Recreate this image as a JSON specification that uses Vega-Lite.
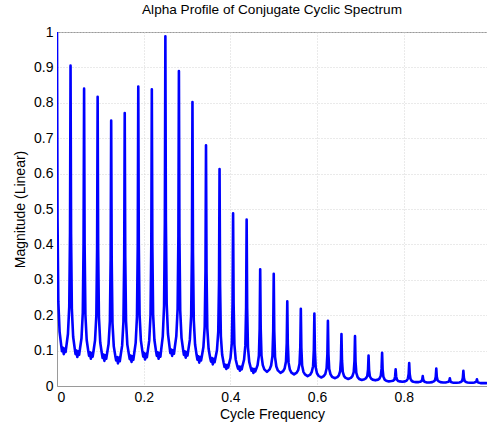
{
  "$schema": "https://vega.github.io/schema/vega-lite/v6.json",
  "width": 430,
  "height": 354,
  "autosize": {"type": "none"},
  "padding": {"left": 57, "top": 32, "right": 0, "bottom": 41},
  "background": "white",
  "title": {"text": "Alpha Profile of Conjugate Cyclic Spectrum", "fontSize": 13.6, "fontWeight": "normal", "font": "Liberation Sans", "color": "#000000", "offset": 8},
  "config": {
    "view": {"stroke": "#9a9a9a", "strokeWidth": 1},
    "axis": {"labelFont": "Liberation Sans", "titleFont": "Liberation Sans", "labelFontSize": 14, "titleFontSize": 14, "titleFontWeight": "normal", "labelColor": "#000000", "titleColor": "#000000", "domainColor": "#9a9a9a", "gridColor": "#d4d4d4", "gridDash": [1, 2], "ticks": false}
  },
  "data": {"values": [
    {"f":0,"m":1.0},{"f":0.0012,"m":0.475},{"f":0.003,"m":0.239},{"f":0.006,"m":0.153},{"f":0.0095,"m":0.117},{"f":0.0115,"m":0.098},{"f":0.0135,"m":0.108},{"f":0.015625,"m":0.09},{"f":0.0178,"m":0.106},{"f":0.0198,"m":0.096},{"f":0.02175,"m":0.114},{"f":0.02525,"m":0.147},{"f":0.02825,"m":0.224},{"f":0.03005,"m":0.435},
    {"f":0.03125,"m":0.905},{"f":0.03245,"m":0.43},{"f":0.03425,"m":0.217},{"f":0.03725,"m":0.139},{"f":0.04075,"m":0.107},{"f":0.04275,"m":0.09},{"f":0.04475,"m":0.1},{"f":0.046875,"m":0.082},{"f":0.04905,"m":0.098},{"f":0.05105,"m":0.088},{"f":0.053,"m":0.105},{"f":0.0565,"m":0.135},{"f":0.0595,"m":0.207},{"f":0.0613,"m":0.403},
    {"f":0.0625,"m":0.84},{"f":0.0637,"m":0.4},{"f":0.0655,"m":0.202},{"f":0.0685,"m":0.13},{"f":0.072,"m":0.1},{"f":0.074,"m":0.085},{"f":0.076,"m":0.095},{"f":0.078125,"m":0.077},{"f":0.0803,"m":0.093},{"f":0.0823,"m":0.083},{"f":0.08425,"m":0.099},{"f":0.08775,"m":0.129},{"f":0.09075,"m":0.199},{"f":0.09255,"m":0.39},
    {"f":0.09375,"m":0.817},{"f":0.09495,"m":0.387},{"f":0.09675,"m":0.194},{"f":0.09975,"m":0.123},{"f":0.10325,"m":0.094},{"f":0.10525,"m":0.079},{"f":0.10725,"m":0.089},{"f":0.109375,"m":0.071},{"f":0.11155,"m":0.087},{"f":0.11355,"m":0.077},{"f":0.1155,"m":0.092},{"f":0.119,"m":0.119},{"f":0.122,"m":0.183},{"f":0.1238,"m":0.359},
    {"f":0.125,"m":0.75},{"f":0.1262,"m":0.354},{"f":0.128,"m":0.177},{"f":0.131,"m":0.112},{"f":0.1345,"m":0.085},{"f":0.1365,"m":0.072},{"f":0.1385,"m":0.082},{"f":0.140625,"m":0.064},{"f":0.1428,"m":0.08},{"f":0.1448,"m":0.07},{"f":0.14675,"m":0.086},{"f":0.15025,"m":0.114},{"f":0.15325,"m":0.181},{"f":0.15505,"m":0.363},
    {"f":0.15625,"m":0.771},{"f":0.15745,"m":0.366},{"f":0.15925,"m":0.184},{"f":0.16225,"m":0.117},{"f":0.16575,"m":0.09},{"f":0.16775,"m":0.076},{"f":0.16975,"m":0.086},{"f":0.171875,"m":0.068},{"f":0.17405,"m":0.084},{"f":0.17605,"m":0.074},{"f":0.178,"m":0.091},{"f":0.1815,"m":0.122},{"f":0.1845,"m":0.196},{"f":0.1863,"m":0.397},
    {"f":0.1875,"m":0.846},{"f":0.1887,"m":0.401},{"f":0.1905,"m":0.202},{"f":0.1935,"m":0.129},{"f":0.197,"m":0.098},{"f":0.199,"m":0.083},{"f":0.201,"m":0.093},{"f":0.203125,"m":0.075},{"f":0.2053,"m":0.091},{"f":0.2073,"m":0.081},{"f":0.20925,"m":0.098},{"f":0.21275,"m":0.128},{"f":0.21575,"m":0.2},{"f":0.21755,"m":0.398},
    {"f":0.21875,"m":0.838},{"f":0.21995,"m":0.399},{"f":0.22175,"m":0.202},{"f":0.22475,"m":0.13},{"f":0.22825,"m":0.1},{"f":0.23025,"m":0.085},{"f":0.23225,"m":0.095},{"f":0.234375,"m":0.077},{"f":0.23655,"m":0.093},{"f":0.23855,"m":0.083},{"f":0.2405,"m":0.104},{"f":0.244,"m":0.14},{"f":0.247,"m":0.226},{"f":0.2488,"m":0.462},
    {"f":0.25,"m":0.988},{"f":0.2512,"m":0.467},{"f":0.253,"m":0.233},{"f":0.256,"m":0.147},{"f":0.2595,"m":0.112},{"f":0.2615,"m":0.093},{"f":0.2635,"m":0.103},{"f":0.265625,"m":0.085},{"f":0.2678,"m":0.101},{"f":0.2698,"m":0.091},{"f":0.27175,"m":0.109},{"f":0.27525,"m":0.141},{"f":0.27825,"m":0.217},{"f":0.28005,"m":0.425},
    {"f":0.28125,"m":0.89},{"f":0.28245,"m":0.423},{"f":0.28425,"m":0.213},{"f":0.28725,"m":0.136},{"f":0.29075,"m":0.104},{"f":0.29275,"m":0.088},{"f":0.29475,"m":0.098},{"f":0.296875,"m":0.08},{"f":0.29905,"m":0.096},{"f":0.30105,"m":0.086},{"f":0.303,"m":0.102},{"f":0.3065,"m":0.131},{"f":0.3095,"m":0.199},{"f":0.3113,"m":0.386},
    {"f":0.3125,"m":0.802},{"f":0.3137,"m":0.377},{"f":0.3155,"m":0.187},{"f":0.3185,"m":0.118},{"f":0.322,"m":0.088},{"f":0.324,"m":0.074},{"f":0.326,"m":0.084},{"f":0.328125,"m":0.066},{"f":0.3303,"m":0.082},{"f":0.3323,"m":0.072},{"f":0.33425,"m":0.085},{"f":0.33775,"m":0.11},{"f":0.34075,"m":0.168},{"f":0.34255,"m":0.326},
    {"f":0.34375,"m":0.68},{"f":0.34495,"m":0.323},{"f":0.34675,"m":0.163},{"f":0.34975,"m":0.105},{"f":0.35325,"m":0.08},{"f":0.35525,"m":0.069},{"f":0.35725,"m":0.079},{"f":0.359375,"m":0.061},{"f":0.36155,"m":0.077},{"f":0.36355,"m":0.067},{"f":0.3655,"m":0.079},{"f":0.369,"m":0.101},{"f":0.372,"m":0.153},{"f":0.3738,"m":0.295},
    {"f":0.375,"m":0.613},{"f":0.3762,"m":0.287},{"f":0.378,"m":0.141},{"f":0.381,"m":0.088},{"f":0.3845,"m":0.065},{"f":0.3865,"m":0.054},{"f":0.3885,"m":0.06},{"f":0.390625,"m":0.048},{"f":0.3928,"m":0.059},{"f":0.3948,"m":0.052},{"f":0.39675,"m":0.062},{"f":0.40025,"m":0.079},{"f":0.40325,"m":0.121},{"f":0.40505,"m":0.235},
    {"f":0.40625,"m":0.488},{"f":0.40745,"m":0.232},{"f":0.40925,"m":0.117},{"f":0.41225,"m":0.075},{"f":0.41575,"m":0.057},{"f":0.41775,"m":0.049},{"f":0.41975,"m":0.055},{"f":0.421875,"m":0.043},{"f":0.42405,"m":0.054},{"f":0.42605,"m":0.047},{"f":0.428,"m":0.057},{"f":0.4315,"m":0.074},{"f":0.4345,"m":0.114},{"f":0.4363,"m":0.224},
    {"f":0.4375,"m":0.47},{"f":0.4387,"m":0.221},{"f":0.4405,"m":0.109},{"f":0.4435,"m":0.068},{"f":0.447,"m":0.051},{"f":0.449,"m":0.043},{"f":0.451,"m":0.049},{"f":0.453125,"m":0.037},{"f":0.4553,"m":0.048},{"f":0.4573,"m":0.041},{"f":0.45925,"m":0.047},{"f":0.46275,"m":0.059},{"f":0.46575,"m":0.086},{"f":0.46755,"m":0.162},
    {"f":0.46875,"m":0.33},{"f":0.46995,"m":0.162},{"f":0.47175,"m":0.086},{"f":0.47475,"m":0.059},{"f":0.47825,"m":0.047},{"f":0.484375,"m":0.04},{"f":0.4905,"m":0.047},{"f":0.494,"m":0.058},{"f":0.497,"m":0.084},{"f":0.4988,"m":0.156},
    {"f":0.5,"m":0.317},{"f":0.5012,"m":0.155},{"f":0.503,"m":0.082},{"f":0.506,"m":0.055},{"f":0.5095,"m":0.044},{"f":0.515625,"m":0.037},{"f":0.52175,"m":0.042},{"f":0.52525,"m":0.05},{"f":0.52825,"m":0.069},{"f":0.53005,"m":0.122},
    {"f":0.53125,"m":0.239},{"f":0.53245,"m":0.12},{"f":0.53425,"m":0.066},{"f":0.53725,"m":0.046},{"f":0.54075,"m":0.038},{"f":0.546875,"m":0.033},{"f":0.553,"m":0.038},{"f":0.5565,"m":0.045},{"f":0.5595,"m":0.063},{"f":0.5613,"m":0.111},
    {"f":0.5625,"m":0.218},{"f":0.5637,"m":0.108},{"f":0.5655,"m":0.058},{"f":0.5685,"m":0.04},{"f":0.572,"m":0.033},{"f":0.578125,"m":0.028},{"f":0.58425,"m":0.032},{"f":0.58775,"m":0.04},{"f":0.59075,"m":0.056},{"f":0.59255,"m":0.102},
    {"f":0.59375,"m":0.205},{"f":0.59495,"m":0.1},{"f":0.59675,"m":0.053},{"f":0.59975,"m":0.036},{"f":0.60325,"m":0.029},{"f":0.609375,"m":0.024},{"f":0.6155,"m":0.028},{"f":0.619,"m":0.034},{"f":0.622,"m":0.05},{"f":0.6238,"m":0.091},
    {"f":0.625,"m":0.184},{"f":0.6262,"m":0.09},{"f":0.628,"m":0.048},{"f":0.631,"m":0.033},{"f":0.6345,"m":0.026},{"f":0.640625,"m":0.022},{"f":0.64675,"m":0.025},{"f":0.65025,"m":0.03},{"f":0.65325,"m":0.042},{"f":0.65505,"m":0.075},
    {"f":0.65625,"m":0.147},{"f":0.65745,"m":0.073},{"f":0.65925,"m":0.04},{"f":0.66225,"m":0.028},{"f":0.66575,"m":0.023},{"f":0.671875,"m":0.02},{"f":0.678,"m":0.023},{"f":0.6815,"m":0.028},{"f":0.6845,"m":0.039},{"f":0.6863,"m":0.071},
    {"f":0.6875,"m":0.141},{"f":0.6887,"m":0.069},{"f":0.6905,"m":0.037},{"f":0.6935,"m":0.025},{"f":0.697,"m":0.02},{"f":0.703125,"m":0.017},{"f":0.70925,"m":0.019},{"f":0.71275,"m":0.022},{"f":0.71575,"m":0.028},{"f":0.71755,"m":0.046},
    {"f":0.71875,"m":0.086},{"f":0.71995,"m":0.045},{"f":0.72175,"m":0.027},{"f":0.72475,"m":0.021},{"f":0.72825,"m":0.018},{"f":0.734375,"m":0.016},{"f":0.7405,"m":0.018},{"f":0.744,"m":0.021},{"f":0.747,"m":0.029},{"f":0.7488,"m":0.049},
    {"f":0.75,"m":0.094},{"f":0.7512,"m":0.047},{"f":0.753,"m":0.026},{"f":0.756,"m":0.018},{"f":0.7595,"m":0.015},{"f":0.765625,"m":0.013},{"f":0.77175,"m":0.014},{"f":0.77525,"m":0.015},{"f":0.77825,"m":0.018},{"f":0.78005,"m":0.027},
    {"f":0.78125,"m":0.047},{"f":0.78245,"m":0.027},{"f":0.78425,"m":0.018},{"f":0.78725,"m":0.014},{"f":0.79075,"m":0.013},{"f":0.796875,"m":0.012},{"f":0.803,"m":0.013},{"f":0.8065,"m":0.015},{"f":0.8095,"m":0.021},{"f":0.8113,"m":0.034},
    {"f":0.8125,"m":0.065},{"f":0.8137,"m":0.034},{"f":0.8155,"m":0.02},{"f":0.8185,"m":0.014},{"f":0.822,"m":0.012},{"f":0.828125,"m":0.011},{"f":0.83425,"m":0.011},{"f":0.83775,"m":0.012},{"f":0.84075,"m":0.014},{"f":0.84255,"m":0.018},
    {"f":0.84375,"m":0.028},{"f":0.84495,"m":0.018},{"f":0.84675,"m":0.013},{"f":0.84975,"m":0.011},{"f":0.85325,"m":0.01},{"f":0.859375,"m":0.01},{"f":0.8655,"m":0.011},{"f":0.869,"m":0.013},{"f":0.872,"m":0.016},{"f":0.8738,"m":0.026},
    {"f":0.875,"m":0.049},{"f":0.8762,"m":0.026},{"f":0.878,"m":0.016},{"f":0.881,"m":0.013},{"f":0.8845,"m":0.011},{"f":0.890625,"m":0.01},{"f":0.89675,"m":0.01},{"f":0.90025,"m":0.011},{"f":0.90325,"m":0.012},{"f":0.90505,"m":0.015},
    {"f":0.90625,"m":0.022},{"f":0.90745,"m":0.014},{"f":0.90925,"m":0.011},{"f":0.91225,"m":0.01},{"f":0.91575,"m":0.009},{"f":0.921875,"m":0.009},{"f":0.928,"m":0.01},{"f":0.9315,"m":0.011},{"f":0.9345,"m":0.014},{"f":0.9363,"m":0.023},
    {"f":0.9375,"m":0.043},{"f":0.9387,"m":0.023},{"f":0.9405,"m":0.014},{"f":0.9435,"m":0.011},{"f":0.947,"m":0.01},{"f":0.953125,"m":0.009},{"f":0.95925,"m":0.009},{"f":0.96275,"m":0.01},{"f":0.96575,"m":0.011},{"f":0.96755,"m":0.013},
    {"f":0.96875,"m":0.019},{"f":0.96995,"m":0.013},{"f":0.97175,"m":0.01},{"f":0.97475,"m":0.009},{"f":0.97825,"m":0.008},{"f":0.984375,"m":0.008},{"f":0.9905,"m":0.008},{"f":0.994,"m":0.009}
  ]},
  "mark": {"type": "line", "color": "#0000ff", "strokeWidth": 2.6, "clip": true, "strokeJoin": "round"},
  "encoding": {
    "x": {"field": "f", "type": "quantitative", "title": "Cycle Frequency",
      "scale": {"domain": [0, 0.992], "nice": false, "zero": false},
      "axis": {"values": [0, 0.2, 0.4, 0.6, 0.8], "format": ".1~f", "labelPadding": 4, "titlePadding": 3}},
    "y": {"field": "m", "type": "quantitative", "title": "Magnitude (Linear)",
      "scale": {"domain": [0, 1], "nice": false},
      "axis": {"values": [0, 0.1, 0.2, 0.3, 0.4, 0.5, 0.6, 0.7, 0.8, 0.9, 1], "format": ".1~f", "labelPadding": 4, "titlePadding": 6}}
  }
}
